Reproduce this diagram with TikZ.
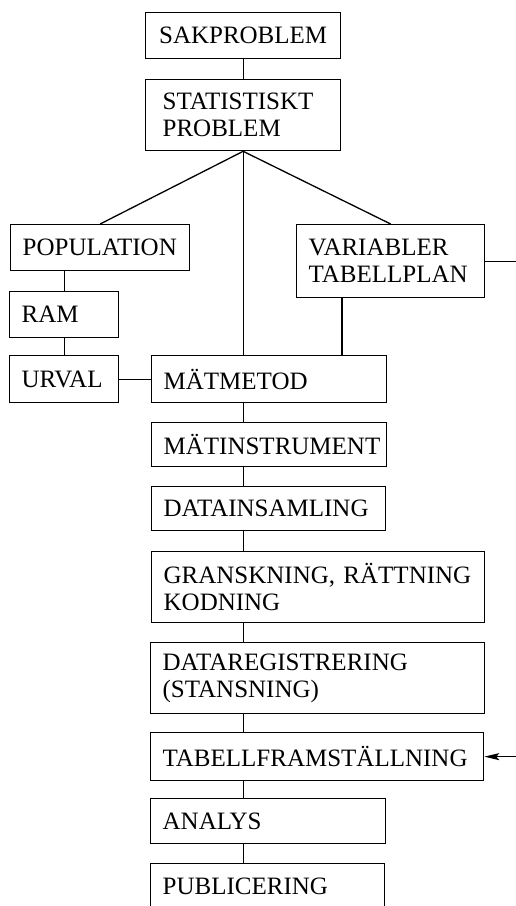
\documentclass[tikz,border=0pt]{standalone}
\usepackage{fontspec}
\setmainfont{Liberation Serif}
\usetikzlibrary{arrows.meta}

\begin{document}
\begin{tikzpicture}[x=1pt, y=-1pt, line width=1.3pt,
    box/.style={draw, anchor=north west, align=left, inner xsep=12pt, inner ysep=0pt,
                font=\fontsize{25}{27}\selectfont}]
    \useasboundingbox (0,0) rectangle (516,906);
    \clip (0,0) rectangle (516,906);

    % Top boxes
    \node[box, align=center, text width=171pt, minimum height=46pt] (sak) at (145,12) {SAKPROBLEM};
    \node[box, inner xsep=17pt, text width=161pt, minimum height=71pt] (stat) at (145,79) {STATISTISKT\\PROBLEM};

    % Left and right branches
    \node[box, text width=155pt, minimum height=46pt] (pop) at (10,224) {POPULATION};
    \node[box, text width=85pt, minimum height=46pt] (ram) at (9,291) {RAM};
    \node[box, text width=85pt, minimum height=47pt] (urval) at (9,355) {URVAL};
    \node[box, text width=164pt, minimum height=73pt] (var) at (296,224) {VARIABLER\\TABELLPLAN};

    % Main chain
    \node[box, text width=211pt, minimum height=47pt] (matmetod) at (151,355) {MÄTMETOD};
    \node[box, text width=211pt, minimum height=44pt] (instr) at (151,422) {MÄTINSTRUMENT};
    \node[box, text width=210pt, minimum height=44pt] (insaml) at (151,486) {DATAINSAMLING};
    \node[box, text width=309pt, minimum height=71pt] (gransk) at (151,551) {GRANSKNING, RÄTTNING\\KODNING};
    \node[box, text width=310pt, minimum height=71pt] (datareg) at (150,642) {DATAREGISTRERING\\(STANSNING)};
    \node[box, text width=309pt, minimum height=48pt] (tabell) at (150,732) {TABELLFRAMSTÄLLNING};
    \node[box, text width=211pt, minimum height=45pt] (analys) at (150,798) {ANALYS};
    \node[box, text width=210pt, minimum height=45pt] (publ) at (150,863) {PUBLICERING};

    % Connections
    \draw (sak.south) -- (stat.north);
    \draw (stat.south) -- (pop.north);
    \draw (stat.south) -- (var.north);
    \draw (stat.south) -- (stat.south |- matmetod.north);
    \draw (ram.north |- pop.south) -- (ram.north);
    \draw (ram.south) -- (urval.north);
    \draw (urval.east) -- (matmetod.west);
    \coordinate (varfoot) at ([xshift=46pt]var.south west);
    \draw (varfoot) -- (varfoot |- matmetod.north);
    \foreach \a/\b in {matmetod/instr, instr/insaml, insaml/gransk, gransk/datareg,
                       datareg/tabell, tabell/analys, analys/publ}
        \draw (stat.south |- \a.south) -- (stat.south |- \b.north);

    % Loose ends at the right edge
    \coordinate (varout) at (var.east -| 516,0);
    \draw (var.east) -- (varout);
    \coordinate (tabin) at (tabell.east -| 516,0);
    \draw[-{Stealth[length=15pt,width=7pt,inset=3pt]}] (tabin) -- (tabell.east);
\end{tikzpicture}
\end{document}
